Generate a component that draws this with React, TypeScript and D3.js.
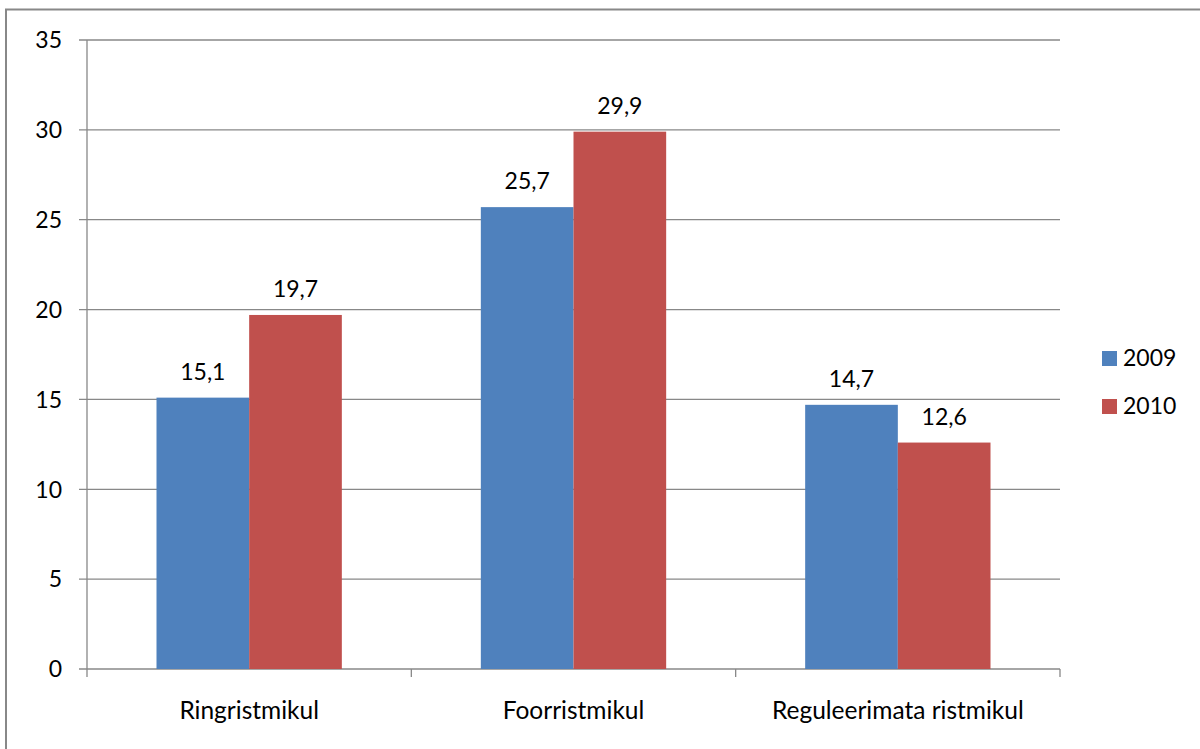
import React from 'react';
import * as d3 from 'd3';

const categories = ['Ringristmikul', 'Foorristmikul', 'Reguleerimata ristmikul'];
const seriesNames = ['2009', '2010'];
const values2009 = [15.1, 25.7, 14.7];
const values2010 = [19.7, 29.9, 12.6];
const yTicks = [0, 5, 10, 15, 20, 25, 30, 35];
const colors = ['#4f81bd', '#c0504d'];

const WIDTH = 1200;
const HEIGHT = 749;
const FONT = 'Lato, "Open Sans", sans-serif';

const App = () => {
    const plot = {left: 87, right: 1060, top: 40, bottom: 669};
    const series = [values2009, values2010];

    const x = d3.scaleBand<string>()
        .domain(categories)
        .range([plot.left, plot.right]);
    const xInner = d3.scaleBand<string>()
        .domain(seriesNames)
        .range([0, x.bandwidth()])
        .paddingOuter(0.75)
        .paddingInner(0);
    const y = d3.scaleLinear()
        .domain([0, 35])
        .range([plot.bottom, plot.top]);

    const fmt = (v: number) => v.toFixed(1).replace('.', ',');

    return (
        <svg width={WIDTH} height={HEIGHT} style={{display: 'block', position: 'absolute', left: 0, top: 0}}
             fontFamily={FONT}>
            <rect x={0} y={0} width={WIDTH} height={HEIGHT} fill="white"/>
            <rect x={6} y={9.5} width={WIDTH + 20} height={HEIGHT + 20} fill="none" stroke="#888" strokeWidth={2}/>

            {/* gridlines and y ticks */}
            {yTicks.map(t => (
                <g key={t}>
                    <line x1={plot.left - 8} x2={plot.right} y1={y(t)} y2={y(t)} stroke="#888" strokeWidth={1.3}/>
                    <text x={62} y={y(t)} dy="0.36em" textAnchor="end" fontSize={23} fill="#000">{t}</text>
                </g>
            ))}
            <line x1={plot.left} x2={plot.left} y1={plot.top} y2={plot.bottom} stroke="#888" strokeWidth={1.3}/>

            {/* x ticks */}
            {[0, 1, 2, 3].map(i => {
                const xp = plot.left + i * x.step();
                return <line key={i} x1={xp} x2={xp} y1={plot.bottom} y2={plot.bottom + 8} stroke="#888"
                             strokeWidth={1.3}/>;
            })}

            {/* bars */}
            {categories.map((c, ci) => (
                <g key={c} transform={`translate(${x(c)},0)`}>
                    {seriesNames.map((s, si) => {
                        const v = series[si][ci];
                        const bx = xInner(s) || 0;
                        return (
                            <g key={s}>
                                <rect x={bx} y={y(v)} width={xInner.bandwidth()} height={y(0) - y(v)}
                                      fill={colors[si]}/>
                                <text x={bx + xInner.bandwidth() / 2} y={y(v) - 18} textAnchor="middle"
                                      fontSize={23} fill="#000">{fmt(v)}</text>
                            </g>
                        );
                    })}
                    <text x={x.bandwidth() / 2} y={719} textAnchor="middle" fontSize={24.5} fill="#000">{c}</text>
                </g>
            ))}

            {/* legend */}
            {seriesNames.map((s, si) => (
                <g key={s} transform={`translate(1102,${351 + si * 48})`}>
                    <rect x={0} y={0} width={15} height={15} fill={colors[si]}/>
                    <text x={21} y={15} fontSize={23} fill="#000">{s}</text>
                </g>
            ))}
        </svg>
    );
};

export default App;
